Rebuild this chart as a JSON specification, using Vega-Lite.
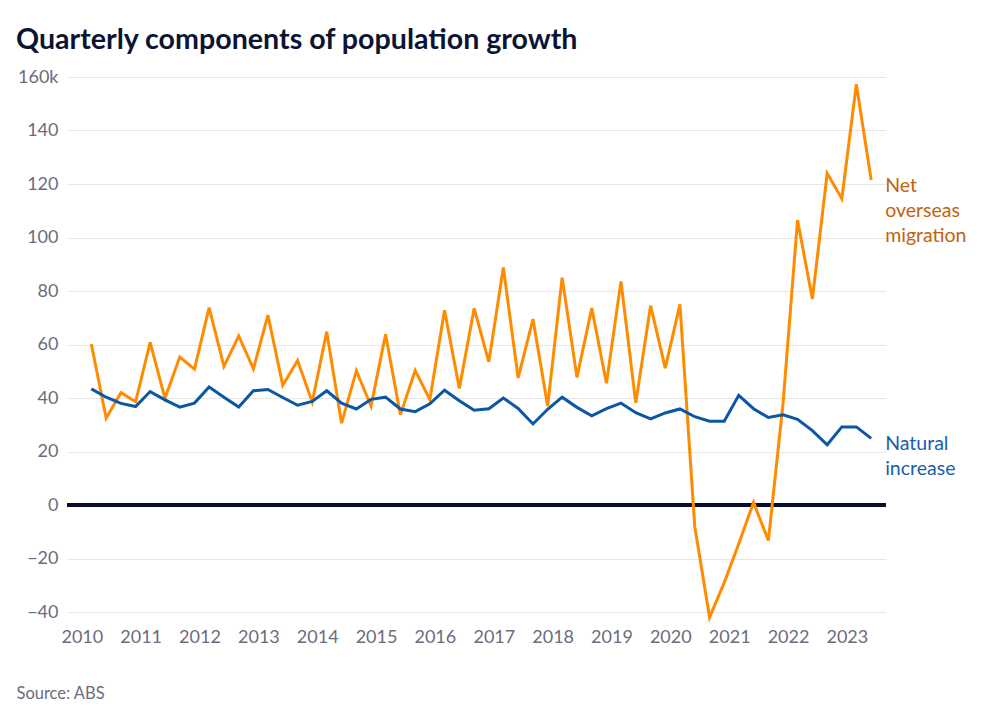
{
  "$schema": "https://vega.github.io/schema/vega-lite/v6.json",
  "width": 819,
  "height": 535,
  "autosize": {"type": "none"},
  "padding": {"left": 67, "top": 77, "right": 109, "bottom": 103},
  "background": "white",
  "title": {
    "text": "Quarterly components of population growth",
    "anchor": "start",
    "frame": "group",
    "dx": -51,
    "offset": -10,
    "baseline": "alphabetic",
    "font": "Lato",
    "fontSize": 28.6,
    "fontWeight": "bold",
    "color": "#0b1533"
  },
  "config": {
    "view": {"stroke": null},
    "axis": {"labelFont": "Lato", "titleFont": "Lato"}
  },
  "data": {
    "values": [
      {"date": "2010-03-01", "Net overseas migration": 60.2, "Natural increase": 43.4},
      {"date": "2010-06-01", "Net overseas migration": 32.5, "Natural increase": 40.3},
      {"date": "2010-09-01", "Net overseas migration": 42, "Natural increase": 38},
      {"date": "2010-12-01", "Net overseas migration": 38.6, "Natural increase": 36.8},
      {"date": "2011-03-01", "Net overseas migration": 60.8, "Natural increase": 42.4},
      {"date": "2011-06-01", "Net overseas migration": 39.9, "Natural increase": 39.3},
      {"date": "2011-09-01", "Net overseas migration": 55.3, "Natural increase": 36.6},
      {"date": "2011-12-01", "Net overseas migration": 50.8, "Natural increase": 38.1},
      {"date": "2012-03-01", "Net overseas migration": 73.8, "Natural increase": 44.1},
      {"date": "2012-06-01", "Net overseas migration": 51.8, "Natural increase": 40.3},
      {"date": "2012-09-01", "Net overseas migration": 63.2, "Natural increase": 36.6},
      {"date": "2012-12-01", "Net overseas migration": 50.9, "Natural increase": 42.7},
      {"date": "2013-03-01", "Net overseas migration": 71, "Natural increase": 43.2},
      {"date": "2013-06-01", "Net overseas migration": 44.8, "Natural increase": 40.2},
      {"date": "2013-09-01", "Net overseas migration": 54, "Natural increase": 37.3},
      {"date": "2013-12-01", "Net overseas migration": 38.5, "Natural increase": 38.7},
      {"date": "2014-03-01", "Net overseas migration": 64.8, "Natural increase": 42.7},
      {"date": "2014-06-01", "Net overseas migration": 30.6, "Natural increase": 38.1},
      {"date": "2014-09-01", "Net overseas migration": 50.2, "Natural increase": 35.9},
      {"date": "2014-12-01", "Net overseas migration": 37, "Natural increase": 39.5},
      {"date": "2015-03-01", "Net overseas migration": 63.8, "Natural increase": 40.3},
      {"date": "2015-06-01", "Net overseas migration": 33.7, "Natural increase": 35.9},
      {"date": "2015-09-01", "Net overseas migration": 50.3, "Natural increase": 34.9},
      {"date": "2015-12-01", "Net overseas migration": 39.4, "Natural increase": 37.8},
      {"date": "2016-03-01", "Net overseas migration": 72.8, "Natural increase": 42.9},
      {"date": "2016-06-01", "Net overseas migration": 43.6, "Natural increase": 39},
      {"date": "2016-09-01", "Net overseas migration": 73.5, "Natural increase": 35.4},
      {"date": "2016-12-01", "Net overseas migration": 53.5, "Natural increase": 36},
      {"date": "2017-03-01", "Net overseas migration": 88.8, "Natural increase": 40},
      {"date": "2017-06-01", "Net overseas migration": 47.5, "Natural increase": 36.1},
      {"date": "2017-09-01", "Net overseas migration": 69.5, "Natural increase": 30.3},
      {"date": "2017-12-01", "Net overseas migration": 37, "Natural increase": 35.8},
      {"date": "2018-03-01", "Net overseas migration": 85, "Natural increase": 40.3},
      {"date": "2018-06-01", "Net overseas migration": 47.7, "Natural increase": 36.5},
      {"date": "2018-09-01", "Net overseas migration": 73.6, "Natural increase": 33.3},
      {"date": "2018-12-01", "Net overseas migration": 45.5, "Natural increase": 36},
      {"date": "2019-03-01", "Net overseas migration": 83.6, "Natural increase": 38.1},
      {"date": "2019-06-01", "Net overseas migration": 38.2, "Natural increase": 34.5},
      {"date": "2019-09-01", "Net overseas migration": 74.5, "Natural increase": 32.2},
      {"date": "2019-12-01", "Net overseas migration": 51.2, "Natural increase": 34.4},
      {"date": "2020-03-01", "Net overseas migration": 75, "Natural increase": 35.9},
      {"date": "2020-06-01", "Net overseas migration": -8, "Natural increase": 33},
      {"date": "2020-09-01", "Net overseas migration": -42, "Natural increase": 31.3},
      {"date": "2020-12-01", "Net overseas migration": -29, "Natural increase": 31.3},
      {"date": "2021-03-01", "Net overseas migration": -14.5, "Natural increase": 41},
      {"date": "2021-06-01", "Net overseas migration": 1, "Natural increase": 36},
      {"date": "2021-09-01", "Net overseas migration": -13.3, "Natural increase": 32.7},
      {"date": "2021-12-01", "Net overseas migration": 38, "Natural increase": 33.7},
      {"date": "2022-03-01", "Net overseas migration": 106.5, "Natural increase": 32},
      {"date": "2022-06-01", "Net overseas migration": 77, "Natural increase": 27.8},
      {"date": "2022-09-01", "Net overseas migration": 124, "Natural increase": 22.5},
      {"date": "2022-12-01", "Net overseas migration": 114.5, "Natural increase": 29.2},
      {"date": "2023-03-01", "Net overseas migration": 157.3, "Natural increase": 29.2},
      {"date": "2023-06-01", "Net overseas migration": 121.5, "Natural increase": 24.9}
    ]
  },
  "transform": [
    {"fold": ["Net overseas migration", "Natural increase"], "as": ["series", "value"]}
  ],
  "encoding": {
    "x": {
      "field": "date",
      "type": "temporal",
      "scale": {
        "type": "utc",
        "domain": [
          {"year": 2009, "month": 10, "date": 1, "utc": true},
          {"year": 2023, "month": 9, "date": 1, "utc": true}
        ]
      },
      "axis": {
        "format": "%Y",
        "tickCount": {"interval": "year", "step": 1},
        "grid": false,
        "ticks": false,
        "domain": false,
        "labelFontSize": 18,
        "labelColor": "#6c6c7c",
        "labelPadding": 16,
        "labelFlush": false,
        "title": "Source: ABS",
        "titleFontSize": 16.5,
        "titleFontWeight": "normal",
        "titleColor": "#6c6c7c",
        "titleAnchor": "start",
        "titleAlign": "left",
        "titleBaseline": "alphabetic",
        "titleX": -51,
        "titleY": 86
      }
    },
    "y": {
      "field": "value",
      "type": "quantitative",
      "scale": {"domain": [-40, 160], "nice": false},
      "axis": {
        "values": [-40, -20, 0, 20, 40, 60, 80, 100, 120, 140, 160],
        "labelExpr": "datum.value === 160 ? '160k' : replace(datum.label, '-', '−')",
        "grid": true,
        "gridColor": "#e6e6e6",
        "gridWidth": 1,
        "ticks": false,
        "domain": false,
        "labelFontSize": 18,
        "labelColor": "#6c6c7c",
        "labelPadding": 9,
        "title": null
      }
    }
  },
  "layer": [
    {
      "mark": {"type": "rule", "color": "#0b0f2e", "strokeWidth": 2.5},
      "encoding": {"y": {"datum": 0}, "x": null}
    },
    {
      "mark": {"type": "line", "strokeWidth": 3},
      "encoding": {
        "color": {
          "field": "series",
          "type": "nominal",
          "scale": {"domain": ["Net overseas migration", "Natural increase"], "range": ["#ff8c00", "#0b57a4"]},
          "legend": null
        }
      }
    },
    {
      "transform": [{"filter": "utcyear(datum.date) === 2023 && utcmonth(datum.date) === 5"}],
      "mark": {"type": "text", "align": "left", "baseline": "top", "dx": 14, "dy": -3, "lineBreak": " ", "lineHeight": 25, "font": "Lato", "fontSize": 19.5},
      "encoding": {
        "text": {"field": "series"},
        "color": {
          "field": "series",
          "type": "nominal",
          "scale": {"domain": ["Net overseas migration", "Natural increase"], "range": ["#c4620c", "#1660ad"]},
          "legend": null
        }
      }
    }
  ],
  "resolve": {"scale": {"color": "independent"}}
}
